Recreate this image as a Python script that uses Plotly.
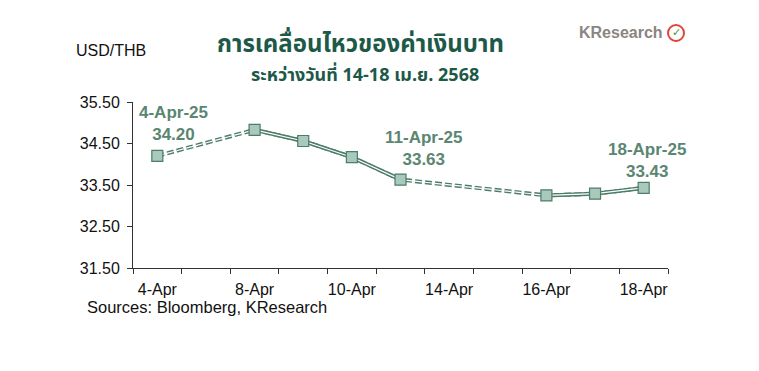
import plotly.graph_objects as go

categories = ["4-Apr", "7-Apr", "8-Apr", "9-Apr", "10-Apr", "11-Apr",
              "14-Apr", "15-Apr", "16-Apr", "17-Apr", "18-Apr"]
tick_labels = ["4-Apr", "", "8-Apr", "", "10-Apr", "", "14-Apr", "", "16-Apr", "", "18-Apr"]
usd_thb = [34.20, None, 34.83, 34.56, 34.17, 33.63, None, None, 33.25, 33.29, 33.43]

LINE = "#4d7c68"
FILL = "#a8c9bb"
TXT = "#5a8672"
TITLE = "#1d5948"

pts_x = [c for c, v in zip(categories, usd_thb) if v is not None]
pts_y = [v for v in usd_thb if v is not None]

fig = go.Figure()
# dashed double line across holidays
fig.add_trace(go.Scatter(x=pts_x, y=pts_y, mode="lines",
                         line=dict(color=LINE, width=4, dash="7px,3px"), hoverinfo="skip"))
fig.add_trace(go.Scatter(x=pts_x, y=pts_y, mode="lines",
                         line=dict(color="white", width=1.2, dash="7px,3px"), hoverinfo="skip"))
# solid double line on trading days
fig.add_trace(go.Scatter(x=categories, y=usd_thb, mode="lines", connectgaps=False,
                         line=dict(color=LINE, width=4), hoverinfo="skip"))
fig.add_trace(go.Scatter(x=categories, y=usd_thb, mode="lines", connectgaps=False,
                         line=dict(color="white", width=1.2), hoverinfo="skip"))
fig.add_trace(go.Scatter(x=pts_x, y=pts_y, mode="markers",
                         marker=dict(symbol="square", size=11, color=FILL,
                                     line=dict(color=LINE, width=1.2))))

ann_font = dict(family="Arial, Liberation Sans, sans-serif", size=17, color=TXT)
for cat, val, txt, dx, dy in [("4-Apr", 34.20, "4-Apr-25<br>34.20", 16, 0.23),
                              ("11-Apr", 33.63, "11-Apr-25<br>33.63", 23, 0.21),
                              ("18-Apr", 33.43, "18-Apr-25<br>33.43", 3, 0.11)]:
    fig.add_annotation(x=cat, y=val + dy, text="<b>" + txt + "</b>", showarrow=False,
                       xshift=dx, yanchor="bottom", xanchor="center", font=ann_font)


def px(x):
    return (x - 133) / 535


def py(y):
    return (268 - y) / 166


def note(x, y, text, font, xanchor="center"):
    fig.add_annotation(xref="paper", yref="paper", x=px(x), y=py(y), text=text,
                       showarrow=False, xanchor=xanchor, yanchor="middle", font=font)


thai = "Tahoma, Noto Sans Thai, Loma, sans-serif"
arial = "Arial, Liberation Sans, sans-serif"
note(360, 45, "<b>การเคลื่อนไหวของค่าเงินบาท</b>", dict(family=thai, size=24, color=TITLE))
note(365, 75, "<b>ระหว่างวันที่ 14-18 เม.ย. 2568</b>", dict(family=thai, size=18, color=TITLE))
note(74, 51, "USD/THB", dict(family=arial, size=16, color="#111"), "left")
note(85, 307, "Sources: Bloomberg, KResearch", dict(family=arial, size=16.5, color="#111"), "left")
note(577, 33, "<b>KResearch</b>", dict(family=arial, size=16, color="#8a857f"), "left")
fig.add_shape(type="circle", xref="paper", yref="paper",
              x0=px(668), x1=px(684), y0=py(41), y1=py(25),
              line=dict(color="#e0453a", width=2), fillcolor="white")
note(676, 33, "<b>✓</b>", dict(family="DejaVu Sans", size=11, color="#3d9a3d"))

fig.update_layout(
    width=759, height=371, margin=dict(l=133, r=91, t=102, b=103),
    plot_bgcolor="white", paper_bgcolor="white", showlegend=False,
    xaxis=dict(type="category", categoryorder="array", categoryarray=categories,
               tickmode="array", tickvals=categories, ticktext=tick_labels,
               tickson="boundaries", ticks="outside", ticklen=5, tickcolor="#333",
               tickangle=0, ticklabelstandoff=7,
               showline=True, linecolor="#333", linewidth=1, showgrid=False,
               range=[-0.5, 10.5],
               tickfont=dict(family=arial, size=16, color="#111")),
    yaxis=dict(range=[31.5, 35.5], tickmode="array",
               tickvals=[31.5, 32.5, 33.5, 34.5, 35.5],
               ticktext=["31.50", "32.50", "33.50", "34.50", "35.50"],
               ticks="outside", ticklen=5, tickcolor="#333", ticklabelstandoff=4,
               showline=True, linecolor="#333", linewidth=1, showgrid=False, zeroline=False,
               tickfont=dict(family=arial, size=16, color="#111")),
)

fig.write_html("out.html")
